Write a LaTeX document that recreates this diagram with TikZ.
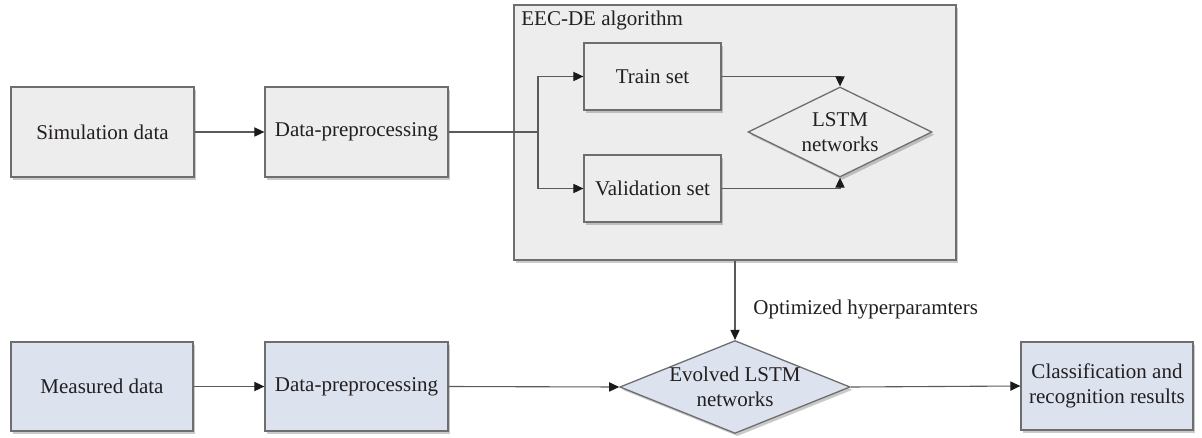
\documentclass[tikz,border=0pt]{standalone}
\usepackage{fontspec}
\setmainfont{Liberation Serif}
\newfontfamily\diagfont{Liberation Serif}
\usetikzlibrary{arrows.meta,shapes.geometric,shadows}
\definecolor{boxgray}{HTML}{EDEDED}
\definecolor{boxblue}{HTML}{DCE3EF}
\definecolor{edgegray}{HTML}{6E6E6E}
\definecolor{linegray}{HTML}{5A5A5A}
\definecolor{tipcol}{HTML}{1A1A1A}
\definecolor{txtcol}{HTML}{231F20}
\tikzset{
  shad/.style={drop shadow={shadow xshift=1.2pt,shadow yshift=-1.4pt,opacity=0.35,fill=black!60}},
  graybox/.style={draw=edgegray,line width=0.65pt,fill=boxgray,shad,align=center,inner sep=0pt,text=txtcol},
  bluebox/.style={draw=edgegray,line width=0.65pt,fill=boxblue,shad,align=center,inner sep=0pt,text=txtcol},
  conn/.style={draw=linegray,line width=0.55pt,-{Triangle[length=5pt,width=4.6pt,color=tipcol,fill=tipcol]}},
  plain/.style={draw=linegray,line width=0.55pt},
  lbl/.style={inner sep=0pt,text=txtcol},
}
\begin{document}
\begin{tikzpicture}[x=0.5pt,y=-0.5pt,font=\diagfont\fontsize{10.5}{12.6}\selectfont]
\useasboundingbox (0,0) rectangle (1202,438);
% outer container
\node[graybox,minimum width=221pt,minimum height=127.5pt] (eec) at (735,132.5) {};
\node[lbl,anchor=west] (eeclbl) at (521,20) {EEC-DE algorithm};
% top row
\node[graybox,minimum width=91.5pt,minimum height=45pt] (sim) at (102.5,132) {Simulation data};
\node[graybox,minimum width=91.5pt,minimum height=45pt] (dp1) at (356.5,132) {Data-preprocessing};
\node[graybox,minimum width=68.5pt,minimum height=33.5pt] (train) at (652.5,76.5) {Train set};
\node[graybox,minimum width=68.5pt,minimum height=33.5pt] (val) at (652.5,188.5) {Validation set};
\node[graybox,shape=diamond,shape aspect=2.04,minimum width=92pt,minimum height=45pt] (lstm) at (840,132) {LSTM\\networks};
% bottom row
\node[bluebox,minimum width=91pt,minimum height=44.5pt] (ms) at (102,386.5) {Measured data};
\node[bluebox,minimum width=91.5pt,minimum height=44.5pt] (dp2) at (356.5,386.5) {Data-preprocessing};
\node[bluebox,shape=diamond,shape aspect=2.48,minimum width=113pt,minimum height=45.5pt] (evo) at (735,387) {Evolved LSTM\\networks};
\node[bluebox,minimum width=86pt,minimum height=44pt] (cls) at (1107,386) {Classification and\\recognition results};
% connectors top
\draw[conn] (sim.east) -- (dp1.west);
\coordinate (split) at (538,132);
\draw[plain] (dp1.east) -- (split);
\draw[conn] (split) |- (train.west);
\draw[conn] (split) |- (val.west);
\draw[conn] (train.east) -| (lstm.north);
\draw[conn] (val.east) -| (lstm.south);
% vertical
\draw[conn] (eec.south) -- (evo.north);
\node[lbl,anchor=west] (optlbl) at (753,309) {Optimized hyperparamters};
% connectors bottom
\draw[conn] (ms.east) -- (dp2.west);
\draw[conn] (dp2.east) -- (evo.west);
\draw[conn] (evo.east) -- (cls.west);
\end{tikzpicture}
\end{document}
